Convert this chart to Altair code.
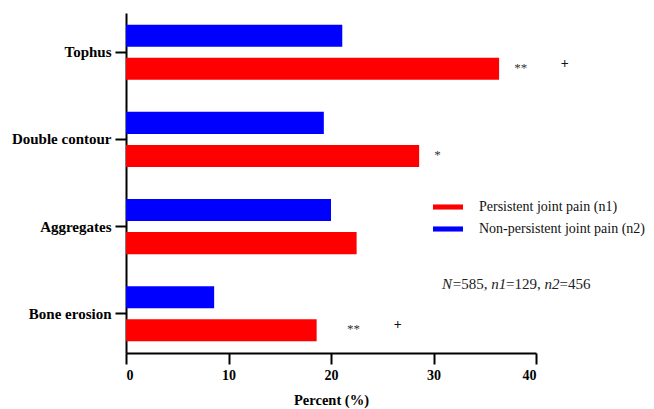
import altair as alt
import pandas as pd

# ---- data ----
categories = ["Tophus", "Double contour", "Aggregates", "Bone erosion"]
persistent = [36.4, 28.6, 22.5, 18.6]
non_persistent = [21.1, 19.3, 20.0, 8.6]
groups = ["Persistent joint pain (n1)", "Non-persistent joint pain (n2)"]
colors = ["#FF0000", "#0000FF"]

ann_category = ["Tophus", "Tophus", "Double contour", "Bone erosion", "Bone erosion"]
ann_x = [38.5, 42.8, 30.4, 22.2, 26.5]
ann_text = ["**", "+", "*", "**", "+"]

x_ticks = [0, 10, 20, 30, 40]

note_segments = ["N", "=585, ", "n1", "=129, ", "n2", "=456"]
note_italic = [True, False, True, False, True, False]

FONT = "Liberation Serif"

rows = []
for c, p, n in zip(categories, persistent, non_persistent):
    rows.append({"category": c, "group": groups[0], "value": p})
    rows.append({"category": c, "group": groups[1], "value": n})
df = pd.DataFrame(rows)

ann_df = pd.DataFrame({
    "category": ann_category,
    "x": ann_x,
    "label": ann_text,
    "group": [groups[0]] * len(ann_text),
})

x_enc = alt.X(
    "value:Q",
    scale=alt.Scale(domain=[0, 40], nice=False),
    axis=alt.Axis(
        values=x_ticks, title="Percent (%)", grid=False,
        labelFont=FONT, labelFontWeight="bold", labelFontSize=14, labelColor="black",
        titleFont=FONT, titleFontWeight="bold", titleFontSize=14.5, titleColor="black",
        titlePadding=11, tickSize=11, tickWidth=2, tickColor="black",
        domainWidth=2, domainColor="black", labelPadding=4,
    ),
)
y_enc = alt.Y(
    "category:N",
    sort=categories,
    scale=alt.Scale(paddingInner=0.3, paddingOuter=0.1),
    axis=alt.Axis(
        title=None, grid=False,
        labelFont=FONT, labelFontWeight="bold", labelFontSize=15, labelColor="black",
        tickSize=11, tickWidth=2, tickColor="black",
        domainWidth=2, domainColor="black", labelPadding=4,
    ),
)
yoff_enc = alt.YOffset(
    "group:N",
    sort=[groups[1], groups[0]],
    scale=alt.Scale(domain=[groups[1], groups[0]], paddingInner=0.333, paddingOuter=0.09),
)

bars = alt.Chart(df).mark_bar().encode(
    x=x_enc,
    y=y_enc,
    yOffset=yoff_enc,
    color=alt.Color(
        "group:N",
        scale=alt.Scale(domain=groups, range=colors),
        legend=alt.Legend(
            title=None, orient="none", legendX=307, legendY=179,
            labelFont=FONT, labelFontSize=14, labelColor="#111111",
            symbolType="M-1,-0.17L1,-0.17L1,0.17L-1,0.17Z", symbolSize=900,
            symbolStrokeWidth=0, labelOffset=16, rowPadding=0, padding=0,
            labelLimit=400,
        ),
    ),
)

ann_base = alt.Chart(ann_df).encode(
    x=alt.X("x:Q"),
    y=alt.Y("category:N", sort=categories),
    yOffset=alt.YOffset("group:N", sort=[groups[1], groups[0]]),
    text="label:N",
)
stars = ann_base.transform_filter(alt.datum.label != "+").mark_text(
    font=FONT, fontSize=13, color="#333333", baseline="middle", dy=-1
)
plus = ann_base.transform_filter(alt.datum.label == "+").mark_text(
    font=FONT, fontSize=14, fontWeight="bold", color="#111111", baseline="middle", dy=-5
)

# note text made of roman/italic pieces laid out left to right
em = {"N": 0.722, "n": 0.5, "=": 0.564, ",": 0.25, " ": 0.25}
def seg_width(s, size):
    return sum(em.get(ch, 0.5) for ch in s) * size

note_layers = []
x0 = 316
for seg, it in zip(note_segments, note_italic):
    note_layers.append(
        alt.Chart(pd.DataFrame({"t": [seg]})).mark_text(
            font=FONT, fontSize=15, fontStyle="italic" if it else "normal",
            align="left", baseline="middle", color="#222222",
        ).encode(x=alt.value(x0), y=alt.value(271), text="t:N")
    )
    x0 += seg_width(seg, 15) - (0.1 if it else 0)

chart = alt.layer(bars, stars, plus, *note_layers).properties(
    width=410, height=340,
    autosize=alt.AutoSizeParams(type="none"),
    padding={"left": 118, "top": 5, "right": 110, "bottom": 56},
).configure_view(stroke=None)

chart.save("out.html", embed_options={"renderer": "svg", "actions": False})
